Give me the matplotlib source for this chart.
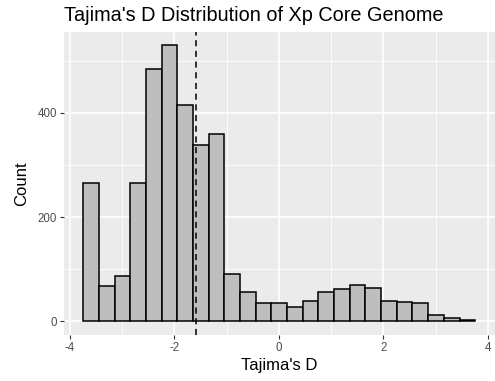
import matplotlib
matplotlib.use("Agg")
import matplotlib.pyplot as plt
import numpy as np

# histogram: 25 bins of width 0.3
bin_start = -3.745
bin_width = 0.3
counts = [265, 67, 86, 265, 484, 530, 415, 338, 360, 90, 56,
          34, 34, 27, 39, 56, 62, 69, 63, 38, 37, 35, 12, 6, 2]
mean_d = -1.585

x_ticks = [-4, -2, 0, 2, 4]
y_ticks = [0, 200, 400]

plt.rcParams["font.family"] = ["Liberation Sans", "DejaVu Sans"]

edges = bin_start + bin_width * np.arange(len(counts) + 1)

fig = plt.figure(figsize=(4.95, 3.81), dpi=100)
W, H = 495, 381
ax = fig.add_axes([63.7 / W, 1 - 334.8 / H, (494.8 - 63.7) / W, (334.8 - 31.6) / H])
ax.set_facecolor("#EBEBEB")
for s in ax.spines.values():
    s.set_visible(False)

# grid
for v in [100, 300, 500]:
    ax.axhline(v, color="white", lw=0.6, zorder=0)
for v in [-3, -1, 1, 3]:
    ax.axvline(v, color="white", lw=0.6, zorder=0)
for v in y_ticks:
    ax.axhline(v, color="white", lw=1.2, zorder=0)
for v in x_ticks:
    ax.axvline(v, color="white", lw=1.2, zorder=0)

ax.bar(edges[:-1], counts, width=bin_width, align="edge",
       color="#BEBEBE", edgecolor="black", linewidth=1.1, zorder=2)
ax.axvline(mean_d, color="black", lw=1.1, ls=(0, (4, 3)), zorder=3)

ax.set_xlim(-4.12, 4.13)
ax.set_ylim(-26.5, 556.5)
ax.set_xticks(x_ticks)
ax.set_yticks(y_ticks)
ax.set_xticklabels([str(t) for t in x_ticks])
ax.tick_params(axis="both", colors="#333333", labelcolor="#4D4D4D",
               labelsize=8.3, length=3, width=0.8, pad=2)

ax.set_xlabel("Tajima's D", fontsize=12, labelpad=3)
ax.set_ylabel("Count", fontsize=12, labelpad=6)
fig.text(63.7 / W, 1 - 21 / H, "Tajima's D Distribution of Xp Core Genome",
         fontsize=14.3, ha="left", va="baseline")

fig.savefig("out.png", dpi=100)
